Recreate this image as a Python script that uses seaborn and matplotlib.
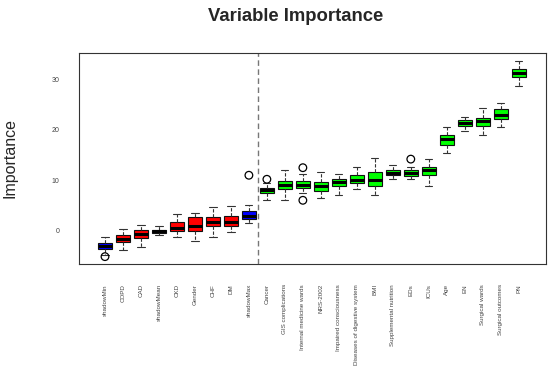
import seaborn as sns
import matplotlib.pyplot as plt
import pandas as pd

# Boruta importance summary per attribute
names = ["shadowMin", "COPD", "CAD", "shadowMean", "CKD", "Gender", "CHF", "DM",
         "shadowMax", "Cancer", "GIS complications", "Internal medicine wards",
         "NRS-2002", "Impaired consciousness", "Diseases of digestive system",
         "BMI", "Supplemental nutrition", "EDs", "ICUs", "Age", "EN",
         "Surgical wards", "Surgical outcomes", "PN"]
status = ["shadow", "rejected", "rejected", "shadow", "rejected", "rejected",
          "rejected", "rejected", "shadow"] + ["confirmed"] * 15
lo = [-4.9, -3.93, -3.27, -0.8, -1.2, -2.13, -1.33, -0.27, 1.53, 6.0, 6.1, 7.4,
      6.55, 7.15, 8.33, 7.0, 10.26, 10.2, 8.93, 15.4, 19.7, 18.9, 20.5, 28.8]
q1 = [-3.6, -2.33, -1.47, -0.47, 0.0, 0.0, 0.87, 0.87, 2.33, 7.4, 8.2, 8.4,
      7.94, 8.93, 9.4, 8.93, 11.0, 10.8, 11.0, 17.1, 20.8, 20.8, 22.2, 30.5]
med = [-3.0, -1.67, -0.67, -0.13, 0.6, 0.87, 1.73, 1.73, 3.0, 8.0, 9.05, 9.1,
       8.93, 9.66, 10.1, 10.1, 11.45, 11.4, 12.04, 18.2, 21.37, 21.8, 23.0, 31.35]
q3 = [-2.5, -0.93, 0.13, 0.2, 1.73, 2.67, 2.67, 2.87, 3.87, 8.5, 9.9, 9.9,
      9.72, 10.3, 11.0, 11.7, 12.0, 12.0, 12.7, 19.0, 21.9, 22.3, 24.1, 32.1]
hi = [-1.33, 0.33, 1.07, 0.87, 3.33, 3.53, 4.67, 4.87, 5.13, 9.4, 12.0, 11.2,
      11.7, 11.25, 12.64, 14.5, 13.0, 12.7, 14.3, 20.6, 22.6, 24.4, 25.3, 33.7]

out_names = ["shadowMin", "shadowMax", "Cancer", "Internal medicine wards",
             "Internal medicine wards", "EDs"]
out_vals = [-5.15, 11.0, 10.2, 12.5, 6.03, 14.2]

status_colors = {"shadow": "#0000FF", "rejected": "#FF0000", "confirmed": "#00FF00"}
palette = {n: status_colors[s] for n, s in zip(names, status)}

rows = []
for i, n in enumerate(names):
    for v in (lo[i], q1[i], med[i], q3[i], hi[i]):
        rows.append({"var": n, "imp": v})
df = pd.DataFrame(rows)
df_out = pd.DataFrame({"var": out_names, "imp": out_vals})

sns.set_style("white")
plt.rcParams["font.family"] = ["Liberation Sans", "DejaVu Sans"]

fig = plt.figure(figsize=(5.5, 3.66), dpi=100)
ax = fig.add_axes([79 / 550, 1 - 264.3 / 366, (545.7 - 79) / 550, (264.3 - 53.3) / 366])

sns.boxplot(data=df, x="var", y="imp", hue="var", palette=palette, order=names,
            legend=False, whis=(0, 100), width=0.8, showfliers=False,
            linecolor="#111111", linewidth=0.8, saturation=1,
            medianprops={"linewidth": 2.2, "color": "black"},
            whiskerprops={"linestyle": (0, (3, 1.5)), "color": "#333333"},
            capprops={"color": "#333333"}, ax=ax)
sns.stripplot(data=df_out, x="var", y="imp", order=names, jitter=False, size=5.5,
              marker="o", facecolor="none", edgecolor="black", linewidth=0.9, ax=ax)

ax.axvline(8.5, color="#777777", linestyle=(0, (4, 2.5)), linewidth=1)

ax.set_xlim(-1.445, 24.5)
ax.set_ylim(-6.67, 35.2)
ax.set_yticks([0, 10, 20, 30])
ax.set_xticks(range(len(names)))
ax.set_xticklabels(names, rotation=90, fontsize=4.5, color="#444444")
ax.tick_params(axis="y", labelsize=5, labelcolor="#444444")
ax.tick_params(axis="both", length=7.2, width=0.8, color="#333333", pad=7, direction="out")
ax.set_xlabel("")
ax.set_ylabel("")
for sp in ax.spines.values():
    sp.set_color("#333333")
    sp.set_linewidth(0.8)

fig.text(296 / 550, 1 - 20.7 / 366, "Variable Importance", ha="center", va="baseline",
         fontsize=13.3, fontweight="bold")
fig.text(10.5 / 550, 1 - 158 / 366, "Importance", ha="center", va="center",
         rotation=90, fontsize=11.5)

fig.savefig("out.png", dpi=100)
